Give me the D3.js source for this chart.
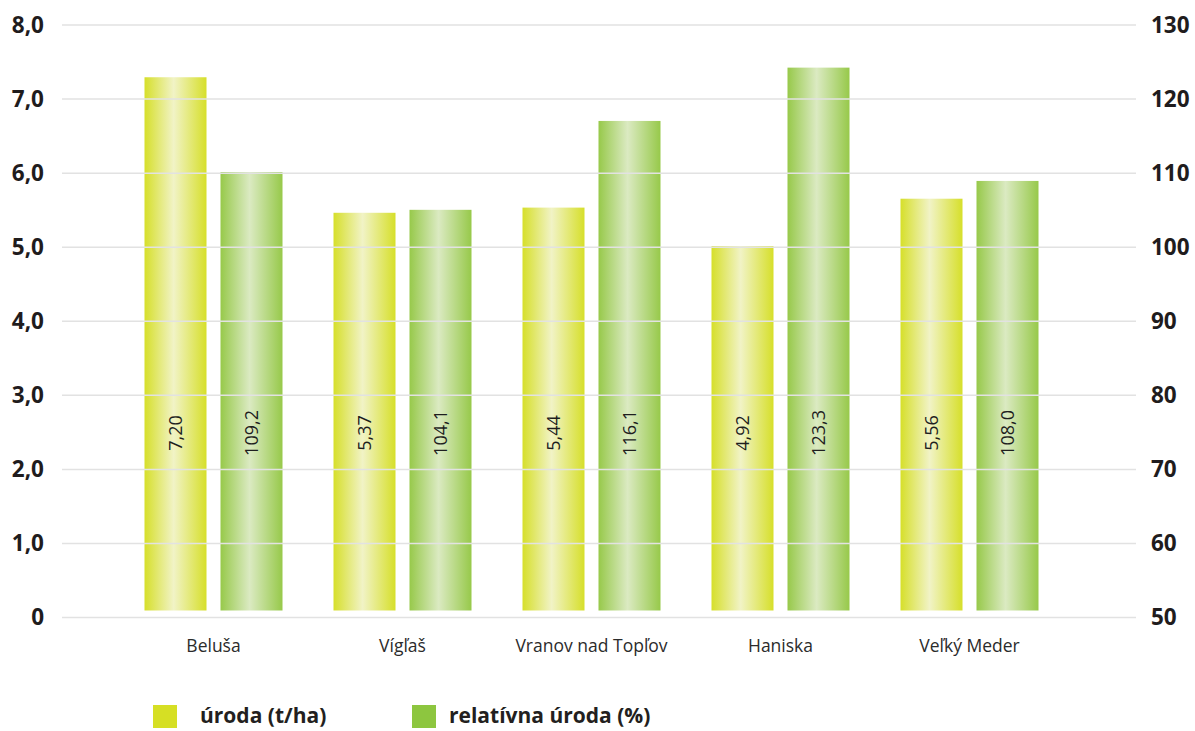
<!DOCTYPE html>
<html>
<head>
<meta charset="utf-8">
<script src="https://cdn.jsdelivr.net/npm/d3@7"></script>
<style>
  html, body { margin: 0; padding: 0; background: #fff; }
  svg { display: block; }
  text { font-family: "Open Sans", "Noto Sans", sans-serif; }
</style>
</head>
<body>
<svg id="chart" width="1195" height="731"></svg>
<script>
const categories = ["Beluša", "Vígľaš", "Vranov nad Topľov", "Haniska", "Veľký Meder"];
const yieldValues = [7.20, 5.37, 5.44, 4.92, 5.56];
const relativeValues = [109.2, 104.1, 116.1, 123.3, 108.0];
const yieldLabels = ["7,20", "5,37", "5,44", "4,92", "5,56"];
const relativeLabels = ["109,2", "104,1", "116,1", "123,3", "108,0"];
const leftTicks = [0, 1, 2, 3, 4, 5, 6, 7, 8];
const leftTickLabels = ["0", "1,0", "2,0", "3,0", "4,0", "5,0", "6,0", "7,0", "8,0"];
const rightTicks = [50, 60, 70, 80, 90, 100, 110, 120, 130];
const seriesNames = ["úroda (t/ha)", "relatívna úroda (%)"];

const svg = d3.select("#chart");
const defs = svg.append("defs");

function addGrad(id, edge, mid) {
  const g = defs.append("linearGradient").attr("id", id)
    .attr("x1", "0%").attr("x2", "100%").attr("y1", "0%").attr("y2", "0%");
  g.append("stop").attr("offset", "0%").attr("stop-color", edge);
  g.append("stop").attr("offset", "47%").attr("stop-color", mid);
  g.append("stop").attr("offset", "100%").attr("stop-color", edge);
}
addGrad("gY", "#d6df2a", "#f1f3c6");
addGrad("gG", "#97c94a", "#dbeac2");

const gridX0 = 62, gridX1 = 1136;
const yL = d3.scaleLinear().domain([0, 8]).range([617.5, 25]);
const yR = d3.scaleLinear().domain([50, 130]).range([617.5, 25]);
const x = d3.scaleBand().domain(categories).range([119, 1064]).paddingInner(0).paddingOuter(0);
const barW = 62, gap = 14;
const lift = 7;

// bars
const groups = svg.append("g").selectAll("g").data(categories).join("g");
groups.each(function(c, i) {
  const g = d3.select(this);
  const cx = x(c) + x.bandwidth() / 2;
  const x1 = cx - gap / 2 - barW, x2 = cx + gap / 2;
  const yTop1 = yL(yieldValues[i]) - lift, yTop2 = yR(relativeValues[i]) - lift;
  const base = yL(0) - lift;
  g.append("rect").attr("x", x1).attr("y", yTop1).attr("width", barW).attr("height", base - yTop1).attr("fill", "url(#gY)");
  g.append("rect").attr("x", x2).attr("y", yTop2).attr("width", barW).attr("height", base - yTop2).attr("fill", "url(#gG)");
});

// gridlines on top of bars
svg.append("g").selectAll("line").data(leftTicks).join("line")
  .attr("x1", gridX0).attr("x2", gridX1)
  .attr("y1", d => yL(d)).attr("y2", d => yL(d))
  .attr("stroke", "#e2e2e2").attr("stroke-width", 1.5);

// value labels (rotated)
groups.each(function(c, i) {
  const g = d3.select(this);
  const cx = x(c) + x.bandwidth() / 2;
  const c1 = cx - gap / 2 - barW / 2, c2 = cx + gap / 2 + barW / 2;
  [[c1, yieldLabels[i]], [c2, relativeLabels[i]]].forEach(([px, t]) => {
    g.append("text")
      .attr("transform", `translate(${px + 6},433) rotate(-90)`)
      .attr("text-anchor", "middle")
      .attr("font-size", 18)
      .attr("fill", "#1e1e1e")
      .text(t);
  });
});

// left axis
const axL = svg.append("g").attr("transform", "translate(44,0)")
  .call(d3.axisLeft(yL).tickValues(leftTicks).tickFormat((d, i) => leftTickLabels[i]).tickSize(0).tickPadding(0));
axL.select(".domain").remove();
axL.selectAll("text").attr("font-size", 22.5).attr("font-weight", "bold").attr("fill", "#1f1c1d")
  .attr("font-family", "'Open Sans', sans-serif");

// right axis
const axR = svg.append("g").attr("transform", "translate(1151,0)")
  .call(d3.axisRight(yR).tickValues(rightTicks).tickFormat(d => d).tickSize(0).tickPadding(0));
axR.select(".domain").remove();
axR.selectAll("text").attr("font-size", 22.5).attr("font-weight", "bold").attr("fill", "#1f1c1d")
  .attr("font-family", "'Open Sans', sans-serif");

// category axis
const axX = svg.append("g").attr("transform", "translate(0,652)")
  .call(d3.axisBottom(x).tickSize(0).tickPadding(0));
axX.select(".domain").remove();
axX.selectAll("text").attr("dy", 0).attr("font-size", 17.5).attr("fill", "#2b2b2b")
  .attr("font-family", "'Open Sans', sans-serif");

// legend
const legend = [
  { name: seriesNames[0], color: "#d6df24", sx: 153, tx: 200 },
  { name: seriesNames[1], color: "#8dc63f", sx: 412, tx: 449 }
];
const lg = svg.append("g").selectAll("g").data(legend).join("g");
lg.append("rect").attr("x", d => d.sx).attr("y", 705).attr("width", 24).attr("height", 23).attr("fill", d => d.color);
lg.append("text").attr("x", d => d.tx).attr("y", 723).attr("font-size", 21).attr("font-weight", "bold")
  .attr("fill", "#231f20").text(d => d.name);
</script>
</body>
</html>
